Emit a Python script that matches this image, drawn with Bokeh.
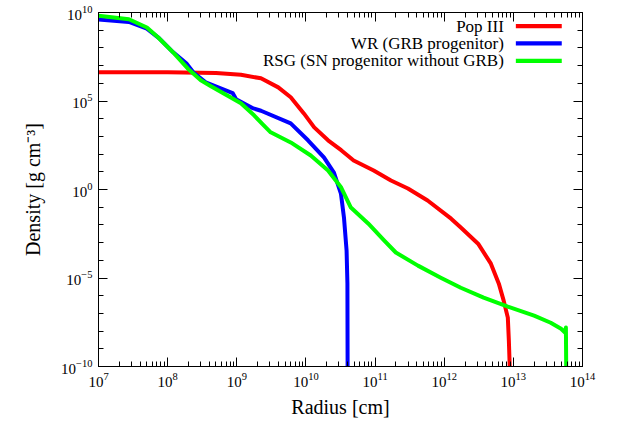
import numpy as np
from bokeh.plotting import figure
from bokeh.models import (FixedTicker, CustomJSTickFormatter, LogTickFormatter,
                          LogAxis, Label, BoxAnnotation)
from bokeh.embed import file_html
from bokeh.resources import INLINE

# ---- data (log10 of radius [cm], log10 of density [g cm^-3]) ----
popiii_log_r = [7.0, 8.0, 8.7, 9.06, 9.35, 9.6, 9.78, 9.97, 10.12, 10.32, 10.51,
                10.69, 10.98, 11.23, 11.475, 11.76, 12.1, 12.24, 12.49, 12.675,
                12.79, 12.86, 12.92, 12.935, 12.95]
popiii_log_rho = [6.62, 6.62, 6.58, 6.48, 6.28, 5.77, 5.21, 4.30, 3.51, 2.78, 2.22,
                  1.64, 1.07, 0.51, 0.06, -0.62, -1.65, -2.15, -3.06, -4.19,
                  -5.32, -6.28, -7.24, -8.54, -10.3]

wr_log_r = [7.0, 7.44, 7.69, 7.875, 8.08, 8.27, 8.37, 8.55, 8.94, 8.99, 9.24, 9.35,
            9.78, 10.03, 10.26, 10.405, 10.506, 10.55, 10.588, 10.60, 10.603]
wr_log_rho = [9.60, 9.47, 9.11, 8.55, 7.75, 7.13, 6.62, 6.06, 5.45, 5.10, 4.58, 4.45,
              3.74, 2.78, 1.81, 0.95, -0.23, -1.58, -3.45, -5.3, -10.3]

rsg_log_r = [7.0, 7.44, 7.7, 7.86, 8.09, 8.29, 8.48, 8.62, 9.06, 9.25, 9.39, 9.49,
             9.78, 10.07, 10.32, 10.51, 10.65, 10.9, 11.13, 11.30, 11.62,
             11.95, 12.24, 12.57, 12.92, 13.30, 13.54, 13.69, 13.75, 13.76, 13.765]
rsg_log_rho = [9.82, 9.62, 9.15, 8.6, 7.7, 6.84, 6.17, 5.85, 4.87, 4.19, 3.62, 3.23,
               2.66, 1.92, 1.07, 0.11, -1.02, -1.92, -2.88, -3.56, -4.30,
               -4.98, -5.55, -6.11, -6.62, -7.13, -7.53, -7.87, -8.09, -7.8, -10.3]

series_names = ["Pop III", "WR (GRB progenitor)", "RSG (SN progenitor without GRB)"]
series_colors = ["#ff0000", "#0000ff", "#00ff00"]

x_major = [10.0 ** k for k in range(7, 15)]
x_minor = [m * 10.0 ** k for k in range(7, 14) for m in range(2, 10)]
y_major = [10.0 ** k for k in range(-10, 11, 5)]
y_minor = [10.0 ** k for k in range(-10, 11) if k % 5 != 0]

FONT = "Liberation Serif"
AX_FONT = "'Liberation Serif', 'Times New Roman', serif"

p = figure(frame_width=484, frame_height=354, x_axis_type="log", y_axis_type="log",
           x_range=(1e7, 1e14), y_range=(1e-10, 1e10),
           output_backend="svg", toolbar_location=None,
           min_border_left=98, min_border_right=26, min_border_top=12,
           min_border_bottom=54)
p.xgrid.visible = False
p.ygrid.visible = False
p.outline_line_color = "black"
p.outline_line_width = 1
p.background_fill_color = "white"
p.border_fill_color = "white"

blank = CustomJSTickFormatter(code="return '';")

def style_axis(ax, ticker, formatter, show_labels):
    ax.ticker = ticker
    ax.formatter = formatter
    ax.major_tick_in = 9
    ax.major_tick_out = 0
    ax.minor_tick_in = 5
    ax.minor_tick_out = 0
    ax.axis_line_color = "black"
    ax.major_tick_line_color = "black"
    ax.minor_tick_line_color = "black"
    ax.major_label_text_font = AX_FONT
    ax.major_label_text_font_size = "15px" if show_labels else "0px"
    ax.major_label_text_color = "black"
    ax.major_label_standoff = 6 if show_labels else 0
    ax.axis_label_text_font = AX_FONT
    ax.axis_label_text_font_size = "20px"
    ax.axis_label_text_font_style = "normal"
    ax.axis_label_text_color = "black"

xt = FixedTicker(ticks=x_major, minor_ticks=x_minor)
yt = FixedTicker(ticks=y_major, minor_ticks=y_minor)

style_axis(p.xaxis[0], xt, LogTickFormatter(), True)
style_axis(p.yaxis[0], yt, LogTickFormatter(), True)
p.xaxis[0].axis_label = "Radius [cm]"
p.yaxis[0].axis_label = "Density [g cm\u207b\u00b3]"
p.xaxis[0].axis_label_standoff = 6
p.yaxis[0].axis_label_standoff = 14

top_ax = LogAxis()
style_axis(top_ax, FixedTicker(ticks=x_major, minor_ticks=x_minor), blank, False)
p.add_layout(top_ax, "above")
right_ax = LogAxis()
style_axis(right_ax, FixedTicker(ticks=y_major, minor_ticks=y_minor), blank, False)
p.add_layout(right_ax, "right")

all_r = [popiii_log_r, wr_log_r, rsg_log_r]
all_rho = [popiii_log_rho, wr_log_rho, rsg_log_rho]
for lr, lrho, c in zip(all_r, all_rho, series_colors):
    p.line(10.0 ** np.array(lr), 10.0 ** np.array(lrho), line_color=c,
           line_width=4, line_join="round")

# ---- legend: text right-aligned, key line on the right ----
legend_text_right = 10 ** 12.862
legend_key_left = 10 ** 13.036
legend_key_right = 10 ** 13.70
legend_rows = [9.23, 8.26, 7.27]
for name, c, ly in zip(series_names, series_colors, legend_rows):
    p.add_layout(Label(x=legend_text_right, y=10 ** ly, text=name,
                       text_align="right", text_baseline="middle",
                       text_font=FONT, text_font_size="17px", text_color="black"))
    p.add_layout(BoxAnnotation(left=legend_key_left, right=legend_key_right,
                               bottom=10 ** (ly - 0.12), top=10 ** (ly + 0.12),
                               fill_color=c, fill_alpha=1.0, line_alpha=0))

open("out.html", "w").write(file_html(p, INLINE))
